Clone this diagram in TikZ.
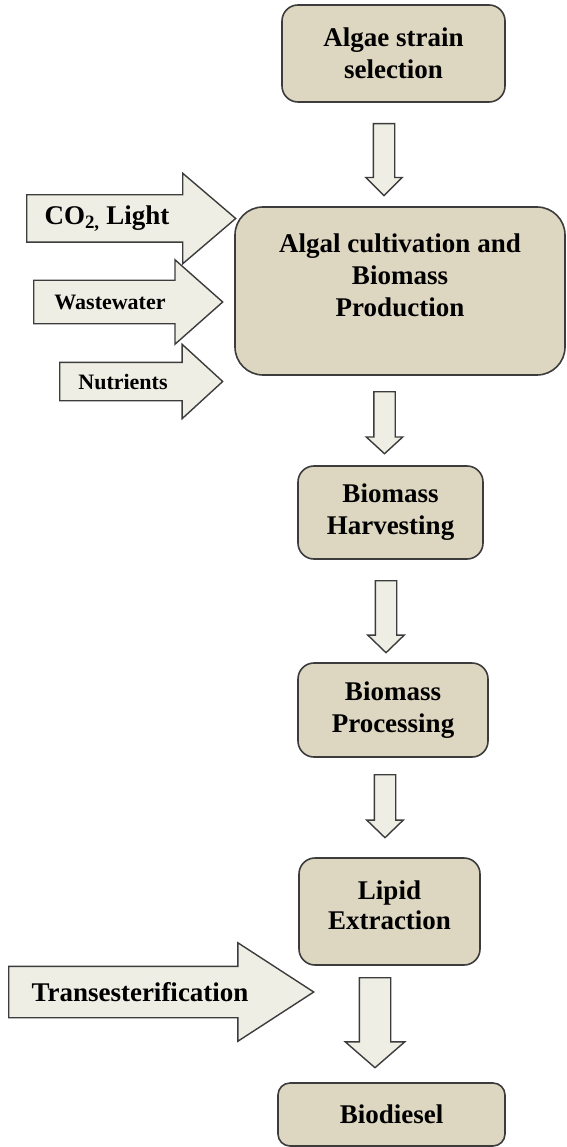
\documentclass[tikz,border=0pt]{standalone}
\usepackage{fontspec}
\setmainfont{Liberation Serif}
\usepackage{xcolor}
\usepackage{tikz}
\usetikzlibrary{shapes.arrows}

\definecolor{boxfill}{HTML}{DDD6C0}
\definecolor{arrfill}{HTML}{EFEEE4}
\definecolor{edge}{HTML}{3C3C3C}

\begin{document}
\begin{tikzpicture}[
  x=1pt, y=-1pt,
  stage/.style={draw=edge,line width=1.6pt,rounded corners=16pt,fill=boxfill,align=center,inner sep=0pt,font=\fontsize{27}{32}\selectfont\bfseries},
  feed/.style={single arrow,draw=edge,line width=1.4pt,fill=arrfill,anchor=tail,minimum width=0pt,inner xsep=0pt},
  lbl/.style={inner sep=0pt,font=\fontsize{27}{32}\selectfont\bfseries},
  small/.style={font=\fontsize{22}{26}\selectfont\bfseries},
  flow/.style={feed,shape border rotate=270,inner sep=10pt,single arrow head extend=7.5pt,single arrow tip angle=92}
]
  \useasboundingbox (0,0) rectangle (566,1147);

  % process boxes
  \node[stage,minimum width=223pt,minimum height=97pt] (sel) at (393.5,53.5) {Algae strain\\selection};
  \node[stage,minimum width=330pt,minimum height=168pt,rounded corners=28pt] (cult) at (400,291) {Algal cultivation and\\Biomass\\Production\\\mbox{}};
  \node[stage,minimum width=185pt,minimum height=93pt] (harv) at (390.5,512.5) {Biomass\\Harvesting};
  \node[stage,minimum width=190pt,minimum height=94pt] (proc) at (393,710) {Biomass\\Processing};
  \node[stage,minimum width=181pt,minimum height=107pt] (lip) at (389.5,911.5) {Lipid\\[-2pt]Extraction\\[-20pt]\mbox{}};
  \node[stage,minimum width=227pt,minimum height=63pt,rounded corners=12pt] (bio) at (391.5,1114.5) {Biodiesel};

  % inputs
  \node[feed,inner ysep=23pt,single arrow head extend=21.5pt,minimum height=209pt,single arrow tip angle=81] (co2) at (26,218.5) {};
  \node[feed,inner ysep=21pt,single arrow head extend=20.5pt,minimum height=189pt,single arrow tip angle=83] (ww) at (33,302) {};
  \node[feed,inner ysep=18.5pt,single arrow head extend=18pt,minimum height=163pt,single arrow tip angle=85] (nut) at (59,381.5) {};
  \node[feed,inner ysep=25pt,single arrow head extend=23.5pt,minimum height=305pt,single arrow tip angle=66] (trans) at (8,992) {};

  \node[lbl] (lco2) at (107,218.5) {CO\textsubscript{2,} Light};
  \node[lbl,small] (lww) at (110,302) {Wastewater};
  \node[lbl,small] (lnut) at (123,382) {Nutrients};
  \node[lbl] (ltrans) at (140,992) {Transesterification};

  % flow between stages
  \node[flow,minimum height=72pt,single arrow tip angle=90] (f1) at (384,123) {};
  \node[flow,minimum height=62pt,single arrow tip angle=95] (f2) at (384.5,391) {};
  \node[flow,minimum height=72pt] (f3) at (386,580) {};
  \node[flow,minimum height=63pt] (f4) at (385,774) {};
  \node[flow,inner sep=15pt,single arrow head extend=14pt,minimum height=90pt,single arrow tip angle=98] (f5) at (375,977) {};
\end{tikzpicture}
\end{document}
